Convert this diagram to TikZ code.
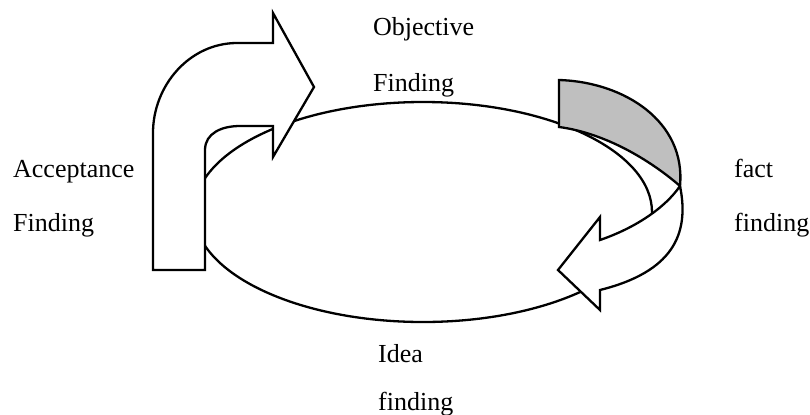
\documentclass[tikz,border=0pt]{standalone}
\usepackage{fontspec}
\setmainfont{Liberation Serif}
\usetikzlibrary{positioning}

\begin{document}
\begin{tikzpicture}[x=0.5pt, y=-0.5pt, line width=1.15pt, line join=miter,
  lbl/.style={inner sep=0pt, anchor=base west, font=\fontsize{13}{15}\selectfont},
  front/.style={draw, fill=white},
  back/.style={draw, fill=black!25}]
  \useasboundingbox (0,0) rectangle (810,414);
  % ring
  \draw (423,212) ellipse [x radius=229, y radius=110];
  % bent arrow on the left
  \draw[front] (153,270) -- (205,270) -- (205,150)
    .. controls (205,133) and (222,126) .. (240,126) -- (273,126)
    -- (273,157) -- (314,87) -- (273,13) -- (273,43) -- (237,43)
    .. controls (190,43) and (153,85) .. (153,133) -- cycle;
  % ribbon on the right, back face
  \draw[back] (559,80) .. controls (625,82) and (686,122) .. (680,186)
    .. controls (650,160) and (605,133) .. (559,127) -- cycle;
  % ribbon on the right, front face
  \draw[front] (680,186) .. controls (690,235) and (672,272) .. (600,290)
    -- (600,310) -- (558,270) -- (600,217) -- (600,240)
    .. controls (635,228) and (665,208) .. cycle;
  % labels
  \node[lbl] (obj) at (372,35) {Objective};
  \node[lbl, below=28pt of obj.base west, anchor=base west] (objf) {Finding};
  \node[lbl] (acc) at (12,177) {Acceptance};
  \node[lbl, below=27pt of acc.base west, anchor=base west] (accf) {Finding};
  \node[lbl] (fact) at (733,177) {fact};
  \node[lbl, below=27pt of fact.base west, anchor=base west] (factf) {finding};
  \node[lbl] (idea) at (377,362) {Idea};
  \node[lbl, below=24pt of idea.base west, anchor=base west] (ideaf) {finding};
\end{tikzpicture}
\end{document}
